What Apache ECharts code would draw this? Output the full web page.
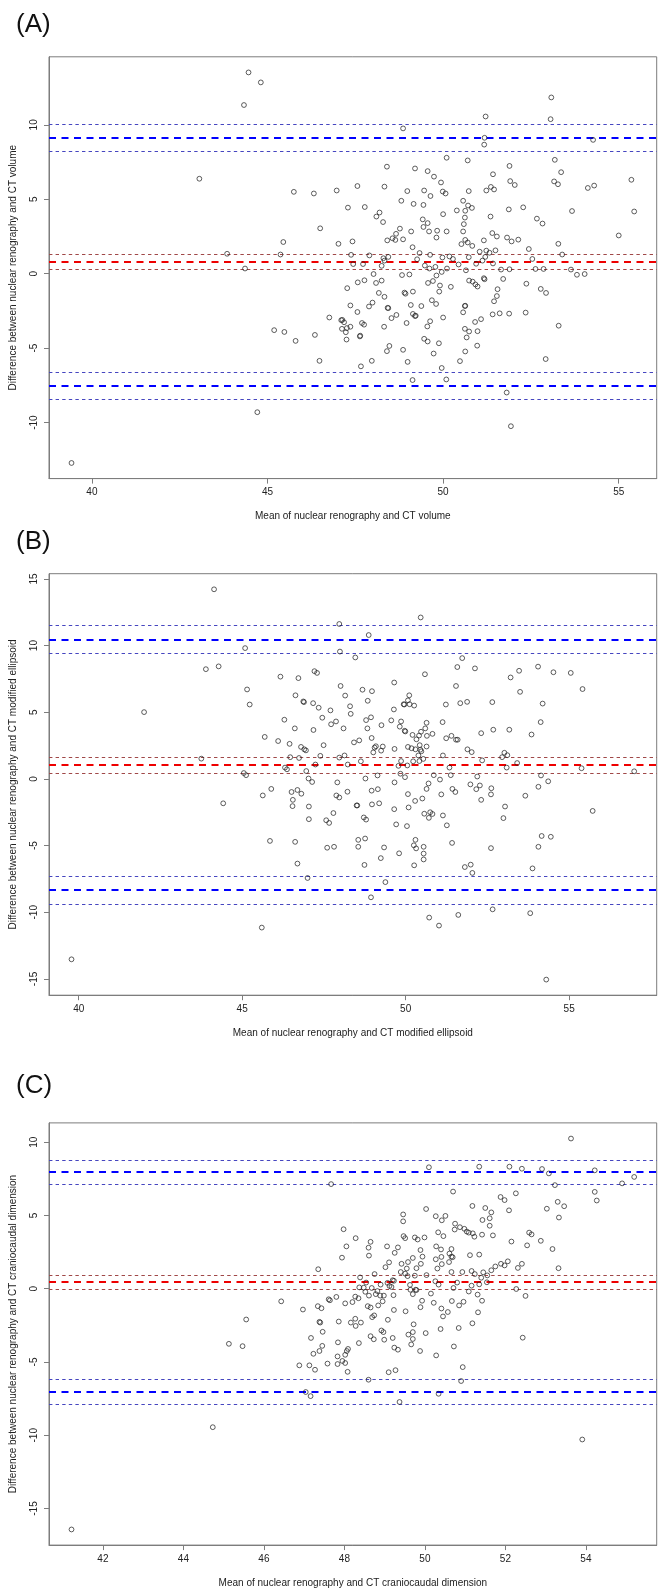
<!DOCTYPE html>
<html>
<head>
<meta charset="utf-8">
<script src="https://cdn.jsdelivr.net/npm/echarts@6/dist/echarts.min.js"></script>
<style>html,body{margin:0;padding:0;background:#fff}#c{width:666px;height:1596px}</style>
</head>
<body>
<div id="c"></div>
<script>
// ---------- Panel A: volume ----------
const meanA = [44.46,44.81,44.33,43.06,43.85,44.36,39.42,44.71,
48.86,50.10,50.70,48.40,49.20,49.56,49.74,49.94,48.33,47.56,45.75,46.32,46.97,48.98,49.46,49.99,50.07,49.64,50.73,48.81,49.16,49.44,50.57,50.71,50.63,50.39,47.29,47.77,48.19,48.10,48.29,50.00,50.62,49.42,49.56,49.44,50.59,46.50,48.77,48.66,49.09,49.60,49.83,50.10,50.57,48.56,48.64,48.86,48.41,49.81,45.45,47.02,47.42,50.52,50.63,50.70,49.13,45.37,47.38,47.90,49.33,49.63,49.98,50.18,50.28,50.73,48.30,48.44,48.33,49.26,47.44,47.72,48.25,49.48,49.61,49.78,49.96,50.11,50.44,50.65,48.83,49.04,49.81,48.02,47.57,47.76,48.09,48.25,49.57,49.71,49.91,50.22,50.74,47.27,49.89,48.17,48.33,48.90,48.93,49.14,49.68,49.80,50.57,50.62,50.63,47.36,47.89,47.99,48.42,48.44,49.08,49.14,49.20,49.22,49.38,47.56,46.76,47.10,47.13,47.18,47.12,47.26,47.36,47.23,47.25,47.63,47.64,47.69,47.75,48.53,48.67,48.96,48.32,49.55,49.63,50.00,50.62,50.74,50.67,45.19,45.48,45.80,46.35,48.40,48.47,48.86,49.46,49.56,49.88,49.73,50.63,46.48,47.66,47.97,48.99,50.48,49.96,49.13,50.09,
53.08,51.21,53.06,51.18,51.17,54.27,53.18,51.89,53.36,51.42,51.91,52.04,53.16,53.27,51.36,51.45,51.23,54.12,54.30,55.36,50.82,51.87,52.28,53.67,55.44,51.35,52.67,52.83,51.40,51.53,51.82,51.95,52.14,51.16,55.00,50.83,51.04,51.23,51.32,51.49,52.44,53.28,53.39,51.20,51.12,51.42,50.94,52.54,51.65,51.89,52.63,52.86,53.64,53.81,54.03,50.84,50.92,50.98,51.16,51.18,51.71,51.55,51.53,51.45,52.37,52.78,52.93,51.41,51.61,51.88,52.35,51.08,50.91,53.29,50.98,50.97,52.92,51.81,51.93];
const diffA = [13.52,12.85,11.33,6.38,1.34,0.35,-12.71,-9.30,
9.76,7.79,7.61,7.19,7.07,6.89,6.52,6.13,5.85,5.89,5.50,5.39,5.59,5.55,5.59,5.52,5.39,5.22,5.55,4.90,4.69,4.62,4.90,4.58,4.23,4.25,4.44,4.48,4.11,3.84,3.47,4.00,3.77,3.65,3.40,3.14,3.33,3.05,3.03,2.68,2.84,2.84,2.89,2.84,2.84,2.38,2.27,2.31,2.24,2.43,2.13,2.01,2.17,1.99,2.27,2.10,1.78,1.29,1.27,1.23,1.39,1.27,1.09,1.16,0.99,1.11,1.04,1.13,0.88,0.97,0.65,0.65,0.53,0.55,0.35,0.46,0.12,0.35,0.62,0.23,-0.09,-0.05,-0.12,-0.02,-0.58,-0.44,-0.62,-0.46,-0.62,-0.49,-0.79,-0.88,-0.46,-0.97,-1.20,-1.29,-1.55,-1.27,-1.34,-1.20,-1.78,-2.03,-2.59,-2.17,-2.15,-2.13,-2.20,-1.94,-2.29,-2.31,-2.10,-2.70,-2.84,-2.82,-2.17,-2.57,-2.94,-3.12,-3.10,-3.26,-3.70,-3.65,-3.56,-3.93,-4.42,-4.21,-4.16,-3.31,-3.42,-2.98,-2.77,-3.31,-3.56,-3.54,-3.19,-2.94,-3.70,-3.88,-4.28,-3.79,-3.91,-4.51,-4.11,-5.20,-4.85,-5.11,-4.37,-4.55,-4.67,-5.36,-5.22,-5.85,-6.22,-5.85,-5.92,-5.87,-6.33,-7.14,-7.10,
11.84,10.56,10.38,9.13,8.67,8.99,7.65,7.24,6.82,6.68,6.22,5.96,6.20,6.01,5.83,5.66,5.59,5.76,5.92,6.31,4.42,4.32,4.46,4.21,4.18,3.84,3.70,3.37,2.73,2.50,2.43,2.17,2.29,2.24,2.57,1.87,1.48,1.55,1.41,1.57,1.66,2.01,1.29,1.13,0.88,0.69,0.67,0.99,0.28,0.30,0.32,0.32,0.28,-0.07,-0.02,-0.53,-0.72,-0.86,-0.30,-0.37,-0.35,-1.04,-1.50,-1.85,-0.67,-1.02,-1.29,-2.73,-2.66,-2.68,-2.61,-3.05,-3.24,-3.49,-3.86,-4.83,-5.73,-7.98,-10.24];
const upperA = [8.22, 9.10, 10.06];   // lower CI, limit, upper CI
const biasA  = [0.27, 0.78, 1.30];
const lowerA = [-8.44, -7.50, -6.61];
const xTicksA = [40, 45, 50, 55];
const yTicksA = [-10, -5, 0, 5, 10];

// ---------- Panel B: modified ellipsoid ----------
const meanB = [44.14,45.09,43.89,44.28,45.15,45.23,42.00,43.75,45.05,45.12,44.42,39.78,
50.46,47.97,48.87,47.99,48.46,51.73,51.58,50.59,46.17,46.72,47.21,47.29,49.65,48.01,51.54,46.63,48.15,48.68,48.97,48.84,50.11,50.07,49.94,49.96,50.12,50.26,49.64,48.30,48.32,46.87,46.89,47.17,47.34,47.70,47.45,47.72,47.87,51.23,51.67,51.88,46.29,46.61,47.18,48.10,48.79,48.94,48.83,49.26,49.56,49.86,49.82,49.99,49.97,50.21,50.33,50.41,50.47,50.64,50.60,50.82,50.65,51.13,51.24,51.40,51.54,51.59,45.69,46.10,46.45,46.80,46.90,46.95,47.49,47.39,47.97,48.13,48.42,48.58,48.96,49.05,49.09,49.30,49.25,49.01,49.66,50.07,50.18,50.30,50.43,50.45,50.48,50.39,50.64,50.54,51.14,51.89,46.47,46.74,46.31,46.37,46.96,47.24,48.23,48.63,49.86,50.05,49.78,50.23,50.42,51.34,49.84,49.98,49.66,49.14,48.77,50.86,51.05,51.38,52.27,51.98,45.63,45.89,46.51,46.55,46.54,46.69,46.81,47.03,47.14,47.91,47.88,47.97,48.22,48.96,49.15,48.97,49.19,50.07,50.51,50.29,50.64,50.70,51.09,51.43,51.52,48.50,48.52,47.04,47.04,47.79,47.57,47.66,48.72,48.79,49.65,50.09,49.71,50.04,50.57,50.75,50.82,50.71,51.14,51.26,45.85,46.62,46.69,47.00,47.60,47.81,48.55,48.76,48.55,48.74,49.34,49.24,49.80,50.30,50.25,50.32,50.55,50.55,50.55,50.26,51.42,51.81,51.99,52.04,49.38,48.94,45.60,50.72,51.02,51.61,
52.12,53.21,53.47,54.05,54.52,55.05,55.41,53.50,52.65,54.19,52.31,52.68,53.17,53.85,54.13,52.02,52.34,52.95,53.02,53.11,53.09,53.41,55.38,56.99,52.19,54.14,54.36,54.06,52.16,52.31,52.62,52.61,53.66,53.04,52.99,55.72,54.16,54.44,54.06,52.61,53.88,52.66,53.81,54.30];
const diffB = [14.22,9.81,8.23,8.44,6.71,5.58,5.01,1.52,0.44,0.28,-1.83,-13.53,
12.11,11.62,10.79,9.55,9.11,9.06,8.39,7.85,7.67,7.56,8.08,7.95,7.23,6.97,6.97,6.27,6.25,6.69,6.58,5.86,6.27,5.89,5.60,5.58,5.60,5.50,5.21,5.45,4.88,5.81,5.76,5.68,5.34,5.14,4.59,4.10,4.31,5.58,5.68,5.78,4.44,3.79,3.67,3.79,4.41,4.62,3.79,4.03,4.39,4.31,3.92,3.56,3.61,3.30,2.97,3.25,3.54,4.21,3.79,3.38,3.23,4.26,3.05,3.23,2.94,2.94,3.15,2.84,2.63,2.40,2.22,2.14,2.53,1.73,1.60,1.76,2.74,2.89,3.07,2.35,2.45,2.43,2.12,1.99,2.25,2.40,2.30,2.22,2.53,2.19,2.07,1.76,2.43,1.50,1.76,2.22,1.63,1.57,0.85,0.72,0.59,1.08,1.08,1.32,1.34,1.01,0.98,1.32,1.34,0.85,0.39,0.13,-0.26,0.26,0.03,0.28,-0.05,0.28,-0.49,-0.41,-1.24,-0.75,-0.98,-1.57,-2.04,-0.83,-1.11,0.03,-0.23,-0.26,-1.24,-1.39,-0.96,-0.88,-0.77,-1.91,-1.83,-1.14,-1.47,-1.65,-0.75,-0.34,-1.16,-0.75,-0.98,-1.99,-1.99,-2.07,-3.02,-2.56,-3.10,-3.30,-2.89,-3.05,-2.27,-2.14,-3.41,-3.54,-2.61,-2.50,-2.63,-2.92,-2.74,-3.48,-4.65,-4.72,-6.35,-7.43,-5.16,-5.09,-4.57,-4.47,-5.09,-6.45,-5.14,-5.94,-5.58,-4.57,-4.98,-5.21,-5.09,-5.60,-6.04,-6.48,-4.80,-6.61,-6.43,-7.05,-7.74,-8.88,-11.15,-10.40,-11.00,-10.20,
8.29,7.61,8.11,8.42,8.00,7.95,6.74,6.53,5.76,5.65,3.43,3.69,3.69,3.33,4.26,2.01,1.39,1.63,1.96,1.78,0.85,1.19,0.80,0.57,0.18,0.26,-0.18,-0.59,-0.77,-1.57,-0.70,-1.16,-1.26,-2.07,-2.94,-2.40,-4.28,-4.34,-5.09,-5.19,-6.71,-9.78,-10.07,-15.05];
const upperB = [9.45, 10.45, 11.51];
const biasB  = [0.44, 1.06, 1.65];
const lowerB = [-9.37, -8.34, -7.33];
const xTicksB = [40, 45, 50, 55];
const yTicksB = [-15, -10, -5, 0, 5, 10, 15];

// ---------- Panel C: craniocaudal dimension ----------
const meanC = [45.56,45.13,45.47,44.73,41.22,
47.67,50.10,50.70,50.03,47.98,48.28,48.05,47.94,47.35,48.60,48.65,48.61,49.46,49.46,49.47,49.51,49.75,49.82,49.99,50.27,50.51,50.42,50.33,50.46,50.75,50.74,50.87,50.98,51.04,51.09,49.33,49.25,49.06,49.02,49.11,49.42,49.58,49.70,49.89,49.94,49.90,49.79,49.75,49.55,49.51,49.57,49.40,50.04,50.28,50.40,50.27,50.41,50.31,50.42,50.60,50.66,50.66,50.69,50.61,50.66,50.93,48.75,48.90,49.20,49.23,49.07,49.12,49.17,48.54,48.39,48.37,48.48,48.68,48.82,48.89,48.52,48.61,48.78,48.98,49.22,49.63,49.64,49.77,49.70,49.79,49.93,50.15,50.26,50.34,50.71,50.80,50.85,50.96,51.09,51.31,46.43,46.97,47.34,47.43,47.61,47.64,47.80,48.02,48.20,48.27,48.35,48.58,48.65,48.69,48.74,48.84,48.95,49.08,49.23,49.52,49.89,50.22,50.41,50.45,50.57,50.67,47.38,47.40,47.86,47.46,48.16,48.27,48.28,48.41,48.92,48.97,49.20,49.72,49.59,49.70,49.66,49.70,50.02,50.39,50.84,48.65,48.73,48.99,49.24,49.33,49.88,50.28,50.72,47.17,47.45,47.38,47.23,47.84,48.36,48.09,48.06,48.02,47.83,47.95,47.83,48.02,47.58,46.88,47.13,47.27,48.08,49.10,49.27,50.94,50.90,48.60,47.04,47.16,49.37,50.34,
53.63,51.35,52.10,52.41,52.91,53.08,54.22,53.23,54.90,55.20,52.26,54.22,54.27,51.88,51.98,53.30,53.46,51.18,51.50,51.65,51.43,51.61,51.61,52.09,53.03,53.33,51.19,51.23,51.42,51.69,52.59,52.65,52.88,52.15,52.54,53.17,51.35,51.12,51.75,51.89,51.98,52.06,51.65,51.45,51.55,51.40,52.31,52.41,53.32,51.16,51.24,51.35,51.54,51.16,52.27,52.50,51.42,51.32,51.18,52.43,53.91];
const diffC = [-2.10,-3.76,-3.92,-9.45,-16.43,
7.14,8.29,6.63,5.44,4.06,3.45,2.89,2.12,1.33,2.80,3.20,2.26,5.07,4.60,3.59,3.45,3.50,3.36,3.50,4.95,4.97,4.67,3.85,3.59,4.44,4.04,4.20,4.09,3.90,3.83,2.82,2.45,2.89,1.47,1.80,1.70,1.82,2.10,2.64,2.19,1.70,1.40,0.89,1.38,1.03,0.86,1.14,0.93,2.89,2.68,2.01,2.17,1.38,1.68,1.82,2.71,2.19,2.15,2.40,1.14,1.14,1.00,0.28,0.58,0.54,0.40,0.19,0.12,0.42,0.77,0.09,0.07,0.05,-0.16,-0.47,-0.21,-0.47,-0.37,-0.47,-0.44,0.26,-0.07,-0.07,-0.37,-0.09,-0.82,-0.33,0.51,0.28,0.05,0.42,-1.14,-0.89,-0.19,-0.40,-0.86,-1.42,-1.19,-1.33,-0.72,-0.79,-0.56,-1.00,-0.91,-0.54,-0.65,-1.19,-1.28,-1.94,-1.82,-1.14,-0.86,-2.12,-1.45,-1.54,-1.26,-0.96,-1.35,-1.89,-1.59,-0.84,-2.26,-2.31,-2.24,-2.94,-2.31,-2.05,-2.54,-2.31,-2.85,-2.96,-3.36,-2.43,-3.13,-2.96,-3.80,-3.43,-3.03,-2.75,-2.68,-3.24,-3.45,-3.48,-4.02,-4.16,-4.25,-4.55,-3.94,-3.36,-3.90,-4.25,-4.44,-3.66,-3.71,-4.11,-4.25,-4.51,-4.62,-4.93,-5.14,-5.07,-5.11,-5.23,-5.23,-5.53,-5.67,-5.70,-5.56,-5.35,-6.30,-6.21,-7.05,-7.33,-7.73,-7.17,
10.25,8.33,8.33,8.19,8.17,7.87,8.08,7.07,7.19,7.63,6.51,6.61,6.02,6.26,6.05,5.93,5.63,5.65,5.51,5.21,4.69,4.81,4.30,5.35,5.46,4.86,3.78,3.55,3.69,3.64,3.83,3.71,3.27,3.22,2.96,2.71,2.33,2.29,1.52,1.70,1.59,1.87,1.26,1.12,0.91,0.75,1.42,1.70,1.40,1.21,1.00,0.30,0.44,0.21,-0.02,-0.49,-0.82,-1.61,-2.36,-3.34,-10.29];
const upperC = [7.12, 7.96, 8.78];
const biasC  = [-0.02, 0.47, 0.93];
const lowerC = [-7.87, -7.03, -6.21];
const xTicksC = [42, 44, 46, 48, 50, 52, 54];
const yTicksC = [-15, -10, -5, 0, 5, 10];

const panelLabels = ['(A)', '(B)', '(C)'];
const xNames = ['Mean of nuclear renography and CT volume',
                'Mean of nuclear renography and CT modified ellipsoid',
                'Mean of nuclear renography and CT craniocaudal dimension'];
const yNames = ['Difference between nuclear renography and CT volume',
                'Difference between nuclear renography and CT modified ellipsoid',
                'Difference between nuclear renography and CT craniocaudal dimension'];

// ---------- build ----------
const FONT = '"Liberation Sans", Arial, Helvetica, sans-serif';
const BOX = '#7d7d7d';
function rRange(a) { // R default: data range extended by 4%
  const lo = Math.min(...a), hi = Math.max(...a), d = (hi - lo) * 0.04;
  return [lo - d, hi + d];
}
const panels = [
  {x: meanA, y: diffA, up: upperA, bias: biasA, low: lowerA, xt: xTicksA, yt: yTicksA, top: 56.8, h: 421.8, lt: 7},
  {x: meanB, y: diffB, up: upperB, bias: biasB, low: lowerB, xt: xTicksB, yt: yTicksB, top: 573.7, h: 421.5, lt: 524},
  {x: meanC, y: diffC, up: upperC, bias: biasC, low: lowerC, xt: xTicksC, yt: yTicksC, top: 1122.9, h: 422.2, lt: 1068}
];
const innerBlue = '#0000ff', outerBlue = '#4646c0', innerRed = '#ee0000', outerRed = '#a04848';
const longDash = [7, 5.5], shortDash = [3.4, 3.2];
function ml(v, color, width, dash) { return {yAxis: v, lineStyle: {color, width, type: dash}}; }

const option = {
  animation: false,
  backgroundColor: '#fff',
  title: [], grid: [], xAxis: [], yAxis: [], series: []
};
panels.forEach((p, i) => {
  const xr = rRange(p.x), yr = rRange(p.y);
  option.title.push({text: panelLabels[i], left: 11, top: p.lt,
    textStyle: {fontSize: 26, fontWeight: 'normal', color: '#111', fontFamily: FONT}});
  option.grid.push({left: 49, right: 9.3, top: p.top, height: p.h, show: true,
    borderColor: BOX, borderWidth: 1, backgroundColor: 'transparent'});
  option.xAxis.push({gridIndex: i, type: 'value', min: xr[0], max: xr[1], position: 'bottom',
    axisLine: {show: true, onZero: false, lineStyle: {color: BOX, width: 1}}, splitLine: {show: false},
    axisTick: {show: true, inside: false, length: 5, customValues: p.xt, lineStyle: {color: BOX}},
    axisLabel: {customValues: p.xt, margin: 9, fontSize: 10, color: '#222', fontFamily: FONT},
    name: xNames[i], nameLocation: 'middle', nameGap: 33,
    nameTextStyle: {fontSize: 10, color: '#222', fontFamily: FONT}});
  option.yAxis.push({gridIndex: i, type: 'value', min: yr[0], max: yr[1], position: 'left',
    axisLine: {show: true, onZero: false, lineStyle: {color: BOX, width: 1}}, splitLine: {show: false},
    axisTick: {show: true, inside: false, length: 5, customValues: p.yt, lineStyle: {color: BOX}},
    axisLabel: {customValues: p.yt, rotate: 90, margin: 10, fontSize: 10, color: '#222', fontFamily: FONT},
    name: yNames[i], nameLocation: 'middle', nameGap: 31,
    nameTextStyle: {fontSize: 10, color: '#222', fontFamily: FONT}});
  option.series.push({type: 'scatter', xAxisIndex: i, yAxisIndex: i,
    data: p.x.map((v, k) => [v, p.y[k]]),
    symbol: 'circle', symbolSize: 4.8,
    itemStyle: {color: 'rgba(255,255,255,0)', borderColor: '#1e1e1e', borderWidth: 0.9},
    silent: true, z: 3,
    markLine: {silent: true, symbol: ['none', 'none'], label: {show: false}, animation: false, z: 2,
      data: [
        ml(p.up[0], outerBlue, 1.2, shortDash), ml(p.up[1], innerBlue, 2.2, longDash), ml(p.up[2], outerBlue, 1.2, shortDash),
        ml(p.bias[0], outerRed, 1.2, shortDash), ml(p.bias[1], innerRed, 2.2, longDash), ml(p.bias[2], outerRed, 1.2, shortDash),
        ml(p.low[0], outerBlue, 1.2, shortDash), ml(p.low[1], innerBlue, 2.2, longDash), ml(p.low[2], outerBlue, 1.2, shortDash)
      ]}
  });
});
const chart = echarts.init(document.getElementById('c'), null, {renderer: 'canvas', width: 666, height: 1596});
chart.setOption(option);
</script>
</body>
</html>
